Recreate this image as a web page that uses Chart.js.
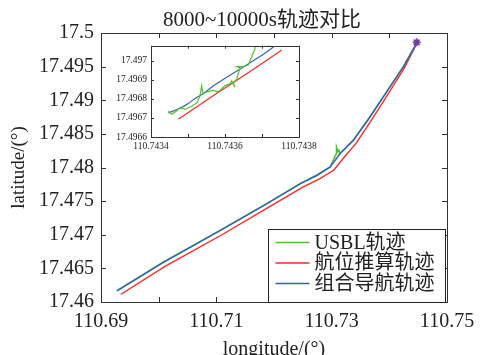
<!DOCTYPE html>
<html>
<head>
<meta charset="utf-8">
<script src="https://cdn.jsdelivr.net/npm/chart.js@4.4.1/dist/chart.umd.min.js"></script>
<style>
html, body { margin: 0; padding: 0; background: #fff; }
#wrap { position: relative; width: 489px; height: 355px; }
#mainChart { position: absolute; left: 0; top: 0; }
#insetChart { position: absolute; left: 102px; top: 36px; }
</style>
</head>
<body>
<div id="wrap">
  <canvas id="mainChart" width="489" height="355"></canvas>
  <canvas id="insetChart" width="222" height="122"></canvas>
</div>
<script>
// dados

const chartTitle = '8000~10000s轨迹对比';
const legendLabels = ['USBL轨迹', '航位推算轨迹', '组合导航轨迹'];
const seriesColors = ['#4cc52a', '#ff2626', '#3462b8'];
const xTickLabels = [110.69, 110.71, 110.73, 110.75];
const insetXTickLabels = [110.7434, 110.7436, 110.7438];

// trajetória completa
const blueLon = [110.69277, 110.70075, 110.71064, 110.71873, 110.72451, 110.72740, 110.72971, 110.73144, 110.73375, 110.73665, 110.73954, 110.74242, 110.74474];
const blueLat = [17.46164, 17.46587, 17.47060, 17.47458, 17.47757, 17.47881, 17.48004, 17.48204, 17.48403, 17.48751, 17.49124, 17.49497, 17.49846];

const redLon = [110.69347, 110.70110, 110.71098, 110.71896, 110.72485, 110.72798, 110.73040, 110.73214, 110.73422, 110.73699, 110.73977, 110.74254, 110.74474];
const redLat = [17.46115, 17.46530, 17.47000, 17.47403, 17.47701, 17.47836, 17.47963, 17.48149, 17.48358, 17.48716, 17.49090, 17.49470, 17.49846];

const greenLon = [110.69277, 110.70075, 110.71064, 110.71873, 110.72451, 110.72740, 110.72971, 110.73092, 110.73084, 110.73110, 110.73127, 110.73136, 110.73144, 110.73375, 110.73665, 110.73954, 110.74242, 110.74474];
const greenLat = [17.46168, 17.46591, 17.47064, 17.47462, 17.47761, 17.47885, 17.48008, 17.48224, 17.48306, 17.48239, 17.48269, 17.48209, 17.48208, 17.48407, 17.48755, 17.49128, 17.49501, 17.49850];

const endLon = [110.74474];
const endLat = [17.49861];

// detalhe (inset)
const insetBlueLon = [110.743447, 110.743469, 110.743492, 110.743505, 110.743519, 110.743541, 110.743568, 110.743595, 110.743622, 110.743650, 110.743677, 110.743704, 110.743731];
const insetBlueLat = [17.496727, 17.496743, 17.496765, 17.496782, 17.496802, 17.496827, 17.496868, 17.496902, 17.496935, 17.496968, 17.497002, 17.497035, 17.497073];

const insetRedLon = [110.743474, 110.743487, 110.743501, 110.743514, 110.743532, 110.743559, 110.743586, 110.743614, 110.743641, 110.743668, 110.743695, 110.743722, 110.743740, 110.743753];
const insetRedLat = [17.496694, 17.496711, 17.496729, 17.496746, 17.496770, 17.496805, 17.496840, 17.496875, 17.496910, 17.496945, 17.496980, 17.497015, 17.497039, 17.497057];

const insetGreenLon = [110.743447, 110.743456, 110.743469, 110.743478, 110.743492, 110.743510, 110.743524, 110.743532, 110.743537, 110.743540, 110.743551, 110.743568, 110.743582, 110.743591, 110.743600, 110.743614, 110.743618, 110.743627, 110.743622, 110.743632, 110.743636, 110.743641, 110.743632, 110.743650, 110.743663, 110.743668, 110.743672, 110.743677, 110.743681, 110.743681, 110.743695, 110.743713, 110.743731];
const insetGreenLat = [17.496737, 17.496720, 17.496737, 17.496754, 17.496745, 17.496762, 17.496779, 17.496812, 17.496870, 17.496829, 17.496837, 17.496845, 17.496837, 17.496854, 17.496870, 17.496879, 17.496895, 17.496862, 17.496887, 17.496904, 17.496937, 17.496962, 17.496970, 17.496970, 17.496979, 17.497004, 17.497020, 17.497045, 17.497062, 17.497079, 17.497075, 17.497079, 17.497087];

const serifFont = "'Liberation Serif', 'Noto Sans CJK SC', serif";
const textColor = '#222';

function toPoints(lons, lats) {
    return lons.map((x, i) => ({ x: x, y: lats[i] }));
}

function lineSet(label, lons, lats, color, width, order) {
    return {
        type: 'scatter',
        label: label,
        data: toPoints(lons, lats),
        showLine: true,
        borderColor: color,
        backgroundColor: color,
        borderWidth: width,
        pointRadius: 0,
        fill: false,
        tension: 0,
        order: order
    };
}

// caixa com ticks para dentro (estilo MATLAB)
const boxTicks = {
    id: 'boxTicks',
    afterDraw(chart, args, opts) {
        const ctx = chart.ctx;
        const a = chart.chartArea;
        const len = opts.len || 5;
        const xs = chart.scales.x, ys = chart.scales.y;
        ctx.save();
        ctx.strokeStyle = '#333';
        ctx.lineWidth = 1;
        ctx.beginPath();
        xs.ticks.forEach(t => {
            const px = Math.round(xs.getPixelForValue(t.value)) + 0.5;
            ctx.moveTo(px, a.bottom); ctx.lineTo(px, a.bottom - len);
            ctx.moveTo(px, a.top); ctx.lineTo(px, a.top + len);
        });
        ys.ticks.forEach(t => {
            const py = Math.round(ys.getPixelForValue(t.value)) + 0.5;
            ctx.moveTo(a.left, py); ctx.lineTo(a.left + len, py);
            ctx.moveTo(a.right, py); ctx.lineTo(a.right - len, py);
        });
        ctx.stroke();
        ctx.strokeRect(Math.round(a.left) + 0.5, Math.round(a.top) + 0.5, Math.round(a.right - a.left), Math.round(a.bottom - a.top));
        ctx.restore();
    }
};

// título desenhado à mão para acertar a posição
const topTitle = {
    id: 'topTitle',
    afterDraw(chart) {
        const ctx = chart.ctx;
        ctx.save();
        ctx.font = '21px ' + serifFont;
        ctx.fillStyle = textColor;
        ctx.textAlign = 'center';
        ctx.textBaseline = 'middle';
        ctx.fillText(chartTitle, 262, 20);
        ctx.restore();
    }
};

// legenda dentro do gráfico, canto inferior direito
const boxLegend = {
    id: 'boxLegend',
    afterDraw(chart) {
        const ctx = chart.ctx;
        const a = chart.chartArea;
        const w = 177, h = 73;
        const left = Math.round(a.right) - w - 2 + 0.5;
        const top = Math.round(a.bottom) - h + 0.5;
        ctx.save();
        ctx.fillStyle = '#fff';
        ctx.fillRect(left, top, w, h);
        ctx.strokeStyle = '#222';
        ctx.lineWidth = 1;
        ctx.strokeRect(left, top, w, h);
        ctx.font = '20px ' + serifFont;
        ctx.textBaseline = 'middle';
        legendLabels.forEach((lab, i) => {
            const y = top + 13 + i * 20.5;
            ctx.strokeStyle = seriesColors[i];
            ctx.lineWidth = 1.5;
            ctx.beginPath();
            ctx.moveTo(left + 7, y);
            ctx.lineTo(left + 41, y);
            ctx.stroke();
            ctx.fillStyle = textColor;
            ctx.fillText(lab, left + 46, y + 1);
        });
        ctx.restore();
    }
};

function isLabelTick(v, list) {
    return list.some(l => Math.abs(l - v) < 1e-9);
}

new Chart(document.getElementById('mainChart'), {
    type: 'scatter',
    data: {
        datasets: [
            lineSet(legendLabels[0], greenLon, greenLat, seriesColors[0], 1.5, 3),
            lineSet(legendLabels[1], redLon, redLat, seriesColors[1], 1.4, 2),
            lineSet(legendLabels[2], blueLon, blueLat, seriesColors[2], 1.5, 1),
            {
                type: 'scatter',
                label: 'end',
                data: toPoints(endLon, endLat),
                showLine: false,
                pointStyle: 'star',
                pointRadius: 4,
                borderColor: '#7a3b9c',
                backgroundColor: '#7a3b9c',
                borderWidth: 1.8,
                order: 0
            }
        ]
    },
    options: {
        responsive: false,
        animation: false,
        layout: { padding: { left: 0, right: 42, top: 33, bottom: 0 } },
        plugins: {
            legend: { display: false },
            tooltip: { enabled: false },
            title: { display: false },
            boxTicks: { len: 5 }
        },
        scales: {
            x: {
                type: 'linear',
                min: 110.69,
                max: 110.75,
                grid: { display: false, drawTicks: false },
                border: { display: false },
                ticks: {
                    stepSize: 0.01,
                    autoSkip: false,
                    maxRotation: 0,
                    padding: 8,
                    color: textColor,
                    font: { family: serifFont, size: 20 },
                    callback: v => isLabelTick(v, xTickLabels) ? Number(v.toFixed(2)).toString() : ''
                },
                title: {
                    display: true,
                    text: 'longitude/(°)',
                    color: textColor,
                    font: { family: serifFont, size: 20 },
                    padding: { top: 0, bottom: -7 }
                },
                afterFit(s) { s.height = 53; }
            },
            y: {
                type: 'linear',
                min: 17.46,
                max: 17.5,
                grid: { display: false, drawTicks: false },
                border: { display: false },
                ticks: {
                    stepSize: 0.005,
                    autoSkip: false,
                    padding: 7,
                    color: textColor,
                    font: { family: serifFont, size: 20 },
                    callback: v => Number(v.toFixed(3)).toString()
                },
                title: {
                    display: true,
                    text: 'latitude/(°)',
                    color: textColor,
                    font: { family: serifFont, size: 19 },
                    padding: { top: 8, bottom: 0 }
                },
                afterFit(s) { s.width = 101; }
            }
        }
    },
    plugins: [boxTicks, boxLegend, topTitle]
});

// gráfico de detalhe
new Chart(document.getElementById('insetChart'), {
    type: 'scatter',
    data: {
        datasets: [
            lineSet(legendLabels[0], insetGreenLon, insetGreenLat, seriesColors[0], 1.2, 1),
            lineSet(legendLabels[1], insetRedLon, insetRedLat, seriesColors[1], 1.2, 3),
            lineSet(legendLabels[2], insetBlueLon, insetBlueLat, seriesColors[2], 1.2, 2)
        ]
    },
    options: {
        responsive: false,
        animation: false,
        layout: { padding: { left: 0, right: 25, top: 5, bottom: 0 } },
        plugins: {
            legend: { display: false },
            tooltip: { enabled: false },
            boxTicks: { len: 3 }
        },
        scales: {
            x: {
                type: 'linear',
                min: 110.7434,
                max: 110.7438,
                grid: { display: false, drawTicks: false },
                border: { display: false },
                ticks: {
                    stepSize: 0.0001,
                    autoSkip: false,
                    maxRotation: 0,
                    padding: 4,
                    color: textColor,
                    font: { family: serifFont, size: 9.5 },
                    callback: v => isLabelTick(Number(v.toFixed(4)), insetXTickLabels) ? Number(v.toFixed(4)).toString() : ''
                },
                afterFit(s) { s.height = 21; }
            },
            y: {
                type: 'linear',
                min: 17.4966,
                max: 17.49708,
                grid: { display: false, drawTicks: false },
                border: { display: false },
                ticks: {
                    stepSize: 0.0001,
                    autoSkip: false,
                    includeBounds: false,
                    padding: 4,
                    color: textColor,
                    font: { family: serifFont, size: 9.5 },
                    callback: v => Number(v.toFixed(4)).toString()
                },
                afterFit(s) { s.width = 49; }
            }
        }
    },
    plugins: [boxTicks]
});
</script>
</body>
</html>
